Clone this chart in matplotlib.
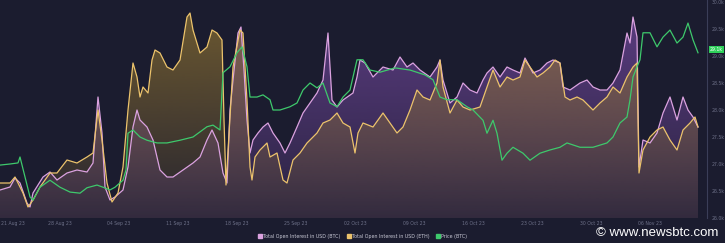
import numpy as np
import matplotlib
matplotlib.use("Agg")
import matplotlib.pyplot as plt
from matplotlib.colors import to_rgb
from matplotlib.lines import Line2D

# time axis (chart units, weekly ticks)
tick_pos = [1, 60, 119, 178, 237, 296, 355, 414, 473, 532, 591, 650, 709]
tick_labels = ["21 Aug 23", "28 Aug 23", "04 Sep 23", "11 Sep 23", "18 Sep 23",
               "25 Sep 23", "02 Oct 23", "09 Oct 23", "16 Oct 23", "23 Oct 23",
               "30 Oct 23", "06 Nov 23", "13 Nov 23"]

# total open interest BTC (relative units)
t_btc = [0, 10, 15, 20, 27, 30, 33, 43, 50, 57, 67, 77, 87, 93, 98, 102, 105, 110, 115, 123,
         128, 133, 137, 140, 147, 153, 160, 167, 173, 183, 193, 200, 207, 212, 218, 223, 227, 230, 233, 238,
         241, 244, 247, 250, 253, 258, 263, 268, 273, 280, 285, 290, 297, 303, 310, 317, 323, 328, 332, 337,
         343, 353, 357, 360, 365, 373, 383, 393, 400, 407, 413, 420, 430, 437, 440, 443, 450, 457, 463, 470,
         477, 483, 487, 493, 500, 507, 513, 520, 525, 533, 540, 547, 553, 560, 563, 570, 580, 587, 593, 600,
         607, 613, 620, 627, 630, 633, 637, 639, 643, 650, 657, 663, 670, 677, 683, 688, 693, 698]
oi_btc = [25, 28, 37, 32, 12, 8, 22, 38, 43, 35, 42, 45, 43, 52, 118, 82, 28, 15, 18, 25,
          48, 88, 105, 95, 88, 75, 45, 38, 38, 45, 52, 58, 75, 85, 72, 42, 32, 105, 135, 182,
          188, 145, 95, 62, 75, 82, 88, 92, 82, 72, 62, 72, 88, 102, 112, 122, 135, 182, 115, 108,
          115, 122, 138, 155, 152, 138, 148, 145, 158, 148, 152, 145, 138, 148, 155, 135, 112, 118, 132, 125,
          122, 135, 142, 148, 138, 148, 145, 142, 157, 142, 145, 152, 155, 152, 128, 125, 132, 135, 128, 125,
          125, 132, 145, 182, 172, 198, 178, 48, 75, 72, 82, 102, 118, 95, 118, 105, 98, 88]

# total open interest ETH (relative units)
t_eth = [0, 10, 15, 23, 28, 33, 40, 50, 57, 67, 77, 87, 93, 98, 102, 107, 112, 118, 123, 128,
         133, 137, 140, 143, 148, 152, 155, 160, 167, 173, 180, 187, 190, 193, 200, 207, 212, 217, 222, 224,
         226, 230, 233, 240, 243, 247, 250, 252, 255, 260, 267, 270, 277, 283, 287, 293, 300, 307, 317, 323,
         330, 337, 343, 350, 355, 358, 363, 373, 383, 390, 397, 403, 410, 417, 423, 430, 437, 440, 443, 450,
         457, 463, 470, 480, 487, 493, 500, 507, 513, 520, 525, 530, 537, 543, 550, 555, 560, 565, 570, 577,
         583, 593, 600, 607, 613, 620, 627, 633, 637, 639, 643, 650, 657, 663, 670, 677, 683, 690, 695, 698]
oi_eth = [32, 32, 38, 22, 8, 15, 28, 42, 42, 55, 52, 58, 62, 105, 75, 32, 13, 22, 48, 105,
          152, 138, 118, 128, 122, 155, 165, 162, 148, 145, 155, 198, 202, 185, 162, 168, 185, 182, 175, 95,
          30, 98, 148, 185, 182, 115, 48, 35, 58, 65, 72, 58, 62, 35, 32, 55, 62, 72, 82, 92,
          95, 102, 92, 88, 62, 82, 92, 88, 102, 92, 82, 88, 105, 125, 118, 115, 132, 155, 128, 102,
          115, 108, 105, 108, 128, 145, 128, 138, 135, 138, 155, 148, 138, 142, 148, 155, 152, 118, 115, 118,
          115, 105, 112, 118, 128, 122, 138, 148, 152, 42, 65, 78, 85, 88, 75, 65, 85, 92, 98, 88]

# BTC price (thousand USD)
t_price = [0, 10, 18, 20, 25, 30, 33, 40, 50, 60, 70, 80, 87, 97, 103, 110, 115, 123, 126, 128,
           133, 140, 147, 157, 167, 180, 193, 207, 213, 220, 223, 230, 237, 242, 247, 250, 257, 263, 270, 273,
           280, 290, 297, 303, 310, 317, 323, 330, 337, 343, 350, 357, 363, 370, 380, 395, 410, 425, 433, 440,
           447, 457, 467, 473, 483, 487, 490, 493, 497, 502, 507, 513, 523, 530, 540, 550, 560, 567, 580, 593,
           607, 613, 620, 627, 630, 633, 637, 640, 643, 650, 657, 663, 670, 677, 683, 688, 693, 698]
price_btc = [26.98, 27.00, 27.02, 27.13, 26.76, 26.39, 26.33, 26.57, 26.70, 26.57,
             26.48, 26.46, 26.56, 26.61, 26.57, 26.52, 26.57, 26.70, 26.89, 27.57,
             27.63, 27.50, 27.44, 27.39, 27.39, 27.44, 27.50, 27.69, 27.72, 27.63,
             28.69, 28.80, 29.06, 29.17, 28.80, 28.24, 28.24, 28.28, 28.19, 28.00,
             28.00, 28.06, 28.13, 28.37, 28.50, 28.41, 28.50, 28.13, 28.06, 28.24,
             28.37, 28.93, 28.93, 28.74, 28.70, 28.78, 28.74, 28.65, 28.56, 28.24,
             28.19, 28.19, 28.06, 28.00, 27.81, 27.57, 27.69, 27.81, 27.57, 27.07,
             27.20, 27.31, 27.20, 27.07, 27.20, 27.26, 27.31, 27.39, 27.31, 27.31,
             27.39, 27.50, 27.76, 27.87, 28.19, 28.61, 28.80, 28.93, 29.43, 29.43,
             29.17, 29.35, 29.48, 29.24, 29.35, 29.61, 29.30, 29.06]
price_ticks = [26.0, 26.5, 27.0, 27.5, 28.0, 28.5, 29.0, 29.5, 30.0]

bg = "#1b1c2f"
grid_txt = "#6d7088"
c_btc, c_eth, c_price = "#dba2e0", "#ecc36c", "#3ec96c"

fig = plt.figure(figsize=(7.25, 2.43), dpi=100, facecolor=bg)
ax = fig.add_axes([0, 25 / 243, 707 / 725, 218 / 243])
ax.set_facecolor(bg)
OI_LIM = (-3, 215)
X_LIM = (0, 707)


def gradient_fill(x, y, color, a_top, a_bot, z):
    # area under a series, colour fading toward the bottom of the axes
    poly = ax.fill_between(x, OI_LIM[0], y, facecolor="none", edgecolor="none")
    r, g, b = to_rgb(color)
    grad = np.zeros((200, 1, 4))
    grad[..., 0], grad[..., 1], grad[..., 2] = r, g, b
    grad[..., 3] = np.linspace(a_top, a_bot, 200)[:, None]
    im = ax.imshow(grad, aspect="auto", extent=[X_LIM[0], X_LIM[1], OI_LIM[0], OI_LIM[1]],
                   origin="upper", zorder=z, interpolation="bilinear")
    im.set_clip_path(poly.get_paths()[0], ax.transData)


gradient_fill(t_btc, oi_btc, "#8c55be", 0.6, 0.12, 1)
gradient_fill(t_eth, oi_eth, "#967832", 0.7, 0.10, 2)

ax.plot(t_btc, oi_btc, color=c_btc, lw=0.9, zorder=3)
ax.plot(t_eth, oi_eth, color=c_eth, lw=0.9, zorder=4)
ax.set_xlim(*X_LIM)
ax.set_ylim(*OI_LIM)
ax.set_yticks([])
for s in ax.spines.values():
    s.set_visible(False)
ax.set_xticks(tick_pos)
ax.set_xticklabels(tick_labels)
ax.tick_params(axis="x", length=0, pad=2.0, labelsize=3.3, labelcolor=grid_txt)
ax.get_xticklabels()[0].set_ha("left")

# price on right axis
ax2 = ax.twinx()
ax2.plot(t_price, price_btc, color=c_price, lw=0.9, zorder=5)
ax2.set_ylim(26.0, 26.0 + 218 / 54)
ax2.set_xlim(*X_LIM)
ax2.set_yticks(price_ticks)
ax2.set_yticklabels([f"{v:.1f}k" for v in price_ticks])
ax2.tick_params(axis="y", length=0, pad=3, labelsize=3.3, labelcolor=grid_txt)
for name, s in ax2.spines.items():
    s.set_visible(name == "right")
ax2.spines["right"].set_color("#3b3e58")
ax2.spines["right"].set_linewidth(0.8)
ax2.text(1.004, 29.12, f"{price_btc[-1]:.1f}k", transform=ax2.get_yaxis_transform(),
         fontsize=3.3, color="white", ha="left", va="center", zorder=10, clip_on=False,
         bbox=dict(boxstyle="square,pad=0.25", fc="#2ed15a", ec="none"))

handles = [Line2D([], [], ls="none", marker="s", ms=2.2, color=c) for c in (c_btc, c_eth, c_price)]
fig.legend(handles, ["Total Open Interest in USD (BTC)", "Total Open Interest in USD (ETH)", "Price (BTC)"],
           loc="center", bbox_to_anchor=(0.5, 7 / 243), ncol=3, frameon=False, fontsize=3.4,
           labelcolor="#c9c9d6", handletextpad=0.2, columnspacing=1.5, handlelength=0.8)

fig.text(718 / 725, 10 / 243, "\u00a9 www.newsbtc.com", ha="right", va="center",
         fontsize=9.5, color="white", family="Liberation Sans")

fig.savefig("out.png", dpi=100, facecolor=bg)
